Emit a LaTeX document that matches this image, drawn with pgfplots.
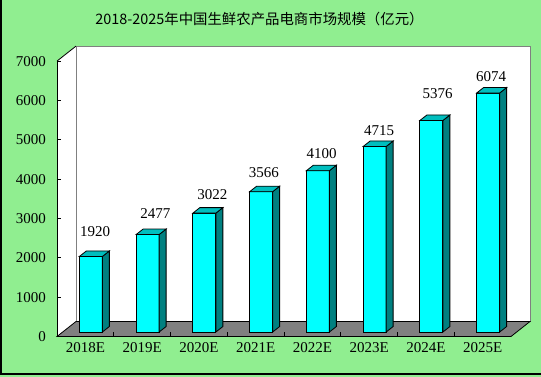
\documentclass[border=0pt]{standalone}
\usepackage{fontspec}
\setmainfont{Liberation Serif}
\newfontfamily\cjk{Noto Sans CJK SC}
\usepackage{pgfplots}
\pgfplotsset{compat=1.18}
\definecolor{bggreen}{RGB}{144,238,144}
\definecolor{barfront}{RGB}{0,255,255}
\definecolor{barside}{RGB}{0,128,128}
\definecolor{bartop}{RGB}{0,190,190}
\definecolor{floorgray}{RGB}{128,128,128}
\definecolor{wallline}{RGB}{128,128,128}

\pgfdeclareplotmark{box3d}{%
  \pgfmathsetmacro\bh{\val*0.03936}%
  \pgfsetfillcolor{barside}%
  \pgfpathmoveto{\pgfpoint{0bp}{0bp}}%
  \pgfpathlineto{\pgfpoint{7bp}{5.5bp}}%
  \pgfpathlineto{\pgfpoint{7bp}{(5.5-\bh)*1bp}}%
  \pgfpathlineto{\pgfpoint{0bp}{-\bh*1bp}}%
  \pgfpathclose
  \pgfusepath{fill,stroke}%
  \pgfsetfillcolor{bartop}%
  \pgfpathmoveto{\pgfpoint{0bp}{0bp}}%
  \pgfpathlineto{\pgfpoint{-23bp}{0bp}}%
  \pgfpathlineto{\pgfpoint{-16bp}{5.5bp}}%
  \pgfpathlineto{\pgfpoint{7bp}{5.5bp}}%
  \pgfpathclose
  \pgfusepath{fill,stroke}%
}

\pgfplotstableread{
x y
0.5 1920
1.5 2477
2.5 3022
3.5 3566
4.5 4100
5.5 4715
6.5 5376
7.5 6074
}\bardata

\begin{document}
\begin{tikzpicture}
\useasboundingbox (0,0) rectangle (541bp,377bp);
\fill[bggreen] (0,0) rectangle (541bp,377bp);
\begin{axis}[
  at={(57bp,40.5bp)}, anchor=south west,
  x=56.75bp, y=0.03936bp,
  xmin=0, xmax=8, ymin=0, ymax=7000,
  enlargelimits=false, clip=false, axis on top,
  axis lines*=left, axis line style={black, line width=0.8bp},
  xtick={0.5,1.5,...,7.5},
  xticklabels={2018E,2019E,2020E,2021E,2022E,2023E,2024E,2025E},
  minor xtick={1,2,...,7},
  major x tick style={draw=none},
  ytick={0,1000,...,7000},
  tick align=inside, major tick length=4bp, minor tick length=4bp,
  tick style={black, line width=0.8bp},
  ticklabel style={font=\fontsize{15bp}{18bp}\selectfont},
  /pgf/number format/assume math mode=true,
  /pgf/number format/set thousands separator={},
  yticklabel style={inner sep=0pt, anchor=east, xshift=-11bp},
  xticklabel style={inner sep=0pt, anchor=north, yshift=-5.5bp},
]
% walls and floor
\fill[white] (axis cs:0,0) -- (axis cs:0,7000) -- ([shift={(19bp,15bp)}]axis cs:0,7000) -- ([shift={(19bp,15bp)}]axis cs:0,0) -- cycle;
\filldraw[fill=white, draw=wallline, line width=0.8bp] ([shift={(19bp,15bp)}]axis cs:0,0) rectangle ([shift={(19bp,15bp)}]axis cs:8,7000);
\draw[black, line width=0.8bp] (axis cs:0,7000) -- ([shift={(19bp,15bp)}]axis cs:0,7000);
\filldraw[fill=floorgray, draw=black, line width=0.8bp] (axis cs:0,0) -- (axis cs:8,0) -- ([shift={(19bp,15bp)}]axis cs:8,0) -- ([shift={(19bp,15bp)}]axis cs:0,0) -- cycle;
% bars: front faces
\addplot[ybar, bar width=23bp, bar shift=5.5bp, yshift=4.5bp, fill=barfront, draw=black, line width=0.8bp] table {\bardata};
% bars: top and side faces
\addplot[only marks, mark=box3d, xshift=17bp, yshift=4.5bp, visualization depends on={rawy \as \val}, mark options={draw=black, line width=0.8bp}] table {\bardata};
% value labels
\addplot[only marks, mark=none, nodes near coords, point meta=explicit symbolic,
  nodes near coords style={anchor=center, inner sep=0pt, font=\fontsize{15bp}{18bp}\selectfont, text=black}]
  table[meta=lab] {
x y lab
0.670 2668 1920
1.732 3120 2477
2.737 3608 3022
3.644 4174 3566
4.661 4642 4100
5.674 5234 4715
6.708 6169 5376
7.648 6606 6074
};
\end{axis}
\node[font=\cjk\fontsize{14.4bp}{17bp}\selectfont, inner sep=0pt] at (259.5bp,358bp) {2018-2025年中国生鲜农产品电商市场规模（亿元）};
\draw[black, line width=1.5bp] (0.75bp,377bp) -- (0.75bp,2.75bp) -- (541bp,2.75bp);
\end{tikzpicture}
\end{document}
